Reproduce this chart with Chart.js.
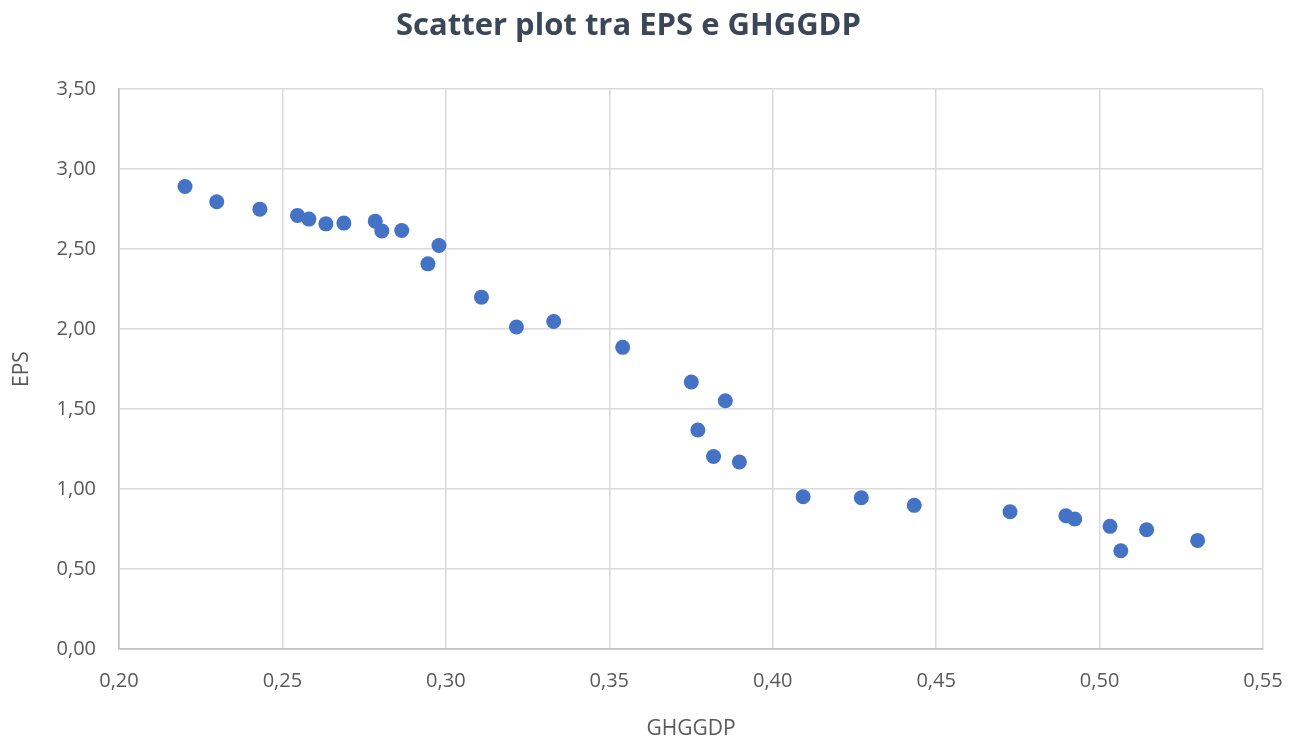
<!DOCTYPE html>
<html lang="it">
<head>
  <meta charset="UTF-8" />
  <title>Scatter plot tra EPS e GHGGDP</title>
  <script src="https://cdn.jsdelivr.net/npm/chart.js"></script>
  <style>
    html, body { margin: 0; padding: 0; background: #ffffff; }
    #wrap { width: 1299px; height: 740px; }
  </style>
</head>
<body>
  <div id="wrap"><canvas id="scatterChart" width="1299" height="740"></canvas></div>

  <script>
    // GHGGDP (x) and EPS (y)
    const ghggdp = [
      0.2202, 0.2299, 0.2431, 0.2546, 0.2581, 0.2633, 0.2688, 0.2784, 0.2804, 0.2865,
      0.2945, 0.2979, 0.3109, 0.3216, 0.3330, 0.3541, 0.3751, 0.3855, 0.3771, 0.3819,
      0.3898, 0.4093, 0.4271, 0.4433, 0.4726, 0.4897, 0.4924, 0.5032, 0.5065, 0.5144,
      0.5300
    ];
    const eps = [
      2.892, 2.796, 2.750, 2.711, 2.688, 2.658, 2.663, 2.675, 2.614, 2.617,
      2.408, 2.523, 2.200, 2.013, 2.048, 1.886, 1.669, 1.552, 1.369, 1.204,
      1.169, 0.952, 0.946, 0.898, 0.858, 0.833, 0.813, 0.767, 0.614, 0.746,
      0.679
    ];
    const xTicks = [0.20, 0.25, 0.30, 0.35, 0.40, 0.45, 0.50, 0.55];
    const yTicks = [0, 0.5, 1, 1.5, 2, 2.5, 3, 3.5];

    const points = ghggdp.map((x, i) => ({ x: x, y: eps[i] }));
    const fmt = v => v.toFixed(2).replace(".", ",");

    // title sits a little left of the canvas centre in the original
    const shiftTitle = {
      id: "shiftTitle",
      afterLayout(chart) {
        if (chart.titleBlock) chart.titleBlock.right -= 42;
      }
    };

    const ctx = document.getElementById("scatterChart").getContext("2d");
    const chart = new Chart(ctx, {
      type: "scatter",
      data: {
        datasets: [{
          label: "EPS",
          data: points,
          backgroundColor: "#4472C4",
          borderColor: "#4472C4",
          borderWidth: 0,
          pointRadius: 7.5,
          pointHoverRadius: 7.5
        }]
      },
      options: {
        responsive: false,
        animation: false,
        layout: { padding: 0 },
        plugins: {
          legend: { display: false },
          tooltip: { enabled: false },
          title: {
            display: true,
            text: "Scatter plot tra EPS e GHGGDP",
            color: "#3B4656",
            font: { family: "'Open Sans'", size: 31, weight: "bold", lineHeight: 1.2 },
            padding: { top: 8, bottom: 44 }
          }
        },
        scales: {
          x: {
            type: "linear",
            min: xTicks[0],
            max: xTicks[xTicks.length - 1],
            afterBuildTicks: scale => { scale.ticks = xTicks.map(v => ({ value: v })); },
            afterFit: scale => { scale.height = 91; scale.paddingRight = 36; },
            grid: { color: "#D9D9D9", lineWidth: 1.5, drawTicks: false },
            border: { color: "#BFBFBF", width: 1.5 },
            ticks: {
              padding: 20,
              color: "#595959",
              font: { family: "'Open Sans'", size: 20 },
              callback: v => fmt(v)
            },
            title: {
              display: true,
              text: "GHGGDP",
              color: "#595959",
              font: { family: "'Open Sans'", size: 21, lineHeight: 1 },
              padding: { top: 0, bottom: 0 }
            }
          },
          y: {
            type: "linear",
            min: yTicks[0],
            max: yTicks[yTicks.length - 1],
            afterBuildTicks: scale => { scale.ticks = yTicks.map(v => ({ value: v })); },
            afterFit: scale => { scale.width = 119; },
            grid: { color: "#D9D9D9", lineWidth: 1.5, drawTicks: false },
            border: { color: "#BFBFBF", width: 1.5 },
            ticks: {
              padding: 23,
              color: "#595959",
              font: { family: "'Open Sans'", size: 20 },
              callback: v => fmt(v)
            },
            title: {
              display: true,
              text: "EPS",
              color: "#595959",
              font: { family: "'Open Sans'", size: 21, lineHeight: 1 },
              padding: { top: 12, bottom: 0 }
            }
          }
        }
      },
      plugins: [shiftTitle]
    });
  </script>
</body>
</html>
